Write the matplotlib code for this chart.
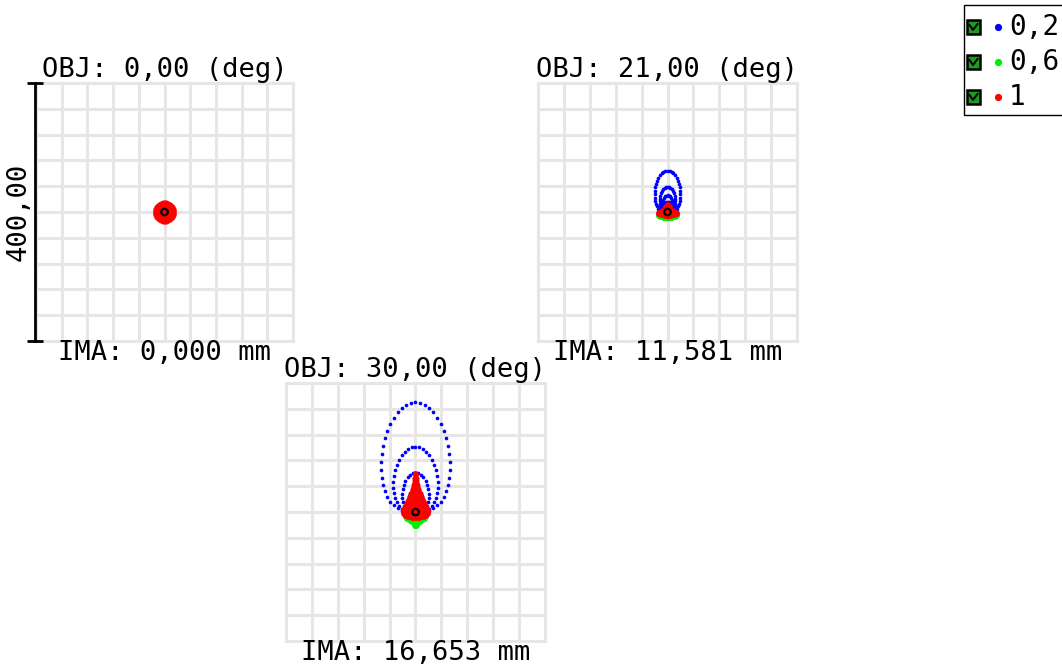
import numpy as np
import matplotlib
matplotlib.use("Agg")
import matplotlib.pyplot as plt
from matplotlib.patches import Rectangle
from matplotlib.lines import Line2D

# field info
fields = ["0,00", "21,00", "30,00"]
ima_heights = ["0,000", "11,581", "16,653"]
scale_um = 400
wavelengths = ["0,2", "0,6", "1"]
wl_colors = ["#0000ff", "#00ee00", "#ff0000"]

# spot rings, in um relative to chief ray:
# (half width, bottom y, top y, dots on ring)
blue_0 = [(14, -14, 14, 40), (9, -9, 9, 30), (4, -4, 4, 20)]
green_0 = [(14, -14, 14, 40), (9, -9, 9, 30), (4, -4, 4, 20)]
red_0 = [(15, -15, 15, 60), (12, -12, 12, 50), (9, -9, 9, 40), (6, -6, 6, 30), (3, -3, 3, 16)]

blue_21 = [(20, -2, 64, 40), (12, -2, 39, 32), (8, -2, 26, 26), (5, -2, 16, 20)]
green_21 = [(15, -9, 0, 40), (10, -10, 3, 34), (5, -10, 6, 24), (2, -9, 4, 12)]
red_21 = [(15, -5, 2, 50), (11, -6, 4, 40), (6, -7, 10, 34), (3, -6, 12, 24), (2, -3, 5, 12)]

blue_30 = [(53, -1, 170, 46), (35, -1, 101, 38), (21, -1, 61, 30), (12, -1, 36, 24)]
green_30 = [(17, -14, 8, 50), (11, -18, 24, 44), (6, -22, 40, 36), (3, -22, 50, 24)]
red_30 = [(20, -9, 14, 70), (16, -9, 26, 60), (11, -8, 36, 54), (7, -7, 46, 46),
          (3, -4, 61, 40), (1.5, 0, 60, 30), (12, -6, 16, 46), (6, -4, 10, 30), (3, -2, 5, 16)]

spots = [[blue_0, green_0, red_0], [blue_21, green_21, red_21], [blue_30, green_30, red_30]]
# how much the rings sag toward the bottom (1 = plain ellipse)
ring_sag = [1.0, 1.15, 1.25]
dot_sizes = [7, 9, 9]


def ring_points(rings, sag):
    xs, ys = [], []
    for rx, yb, yt, n in rings:
        t = np.linspace(0, 2 * np.pi, n, endpoint=False)
        xs.append(rx * np.sin(t))
        ys.append(yb + (yt - yb) * ((1 + np.cos(t)) / 2) ** sag)
    return np.concatenate(xs), np.concatenate(ys)


W, H = 1062, 668
fig = plt.figure(figsize=(W / 100, H / 100), dpi=100)

# axes boxes in pixels: left, top, right, bottom
boxes = [(36, 83, 293, 341), (538, 83, 797, 341), (286, 383, 545, 641)]
grid_col = "#e6e6e6"
mono = "DejaVu Sans Mono"

axes = []
for i, (l, t, r, b) in enumerate(boxes):
    ax = fig.add_axes([l / W, (H - b) / H, (r - l) / W, (b - t) / H])
    half = scale_um / 2
    ax.set_xlim(-half, half)
    ax.set_ylim(-half, half)
    ticks = np.arange(-half, half + 1, scale_um / 10)
    ax.set_xticks(ticks)
    ax.set_yticks(ticks)
    ax.tick_params(length=0, labelbottom=False, labelleft=False)
    ax.grid(True, color=grid_col, lw=2.2)
    ax.set_axisbelow(True)
    for s in ax.spines.values():
        s.set_color(grid_col)
        s.set_linewidth(2.2)

    for k, rings in enumerate(spots[i]):
        x, y = ring_points(rings, ring_sag[i])
        ax.scatter(x, y, s=dot_sizes[k], color=wl_colors[k], lw=0, zorder=3)
    # chief ray
    ax.scatter([0], [0], s=22, facecolor="none", edgecolor="black", lw=1.6, zorder=5)

    ax.text(0.5, 1.05, "OBJ: %s (deg)" % fields[i], transform=ax.transAxes,
            ha="center", va="center", fontsize=19.5, family=mono)
    ax.text(0.5, -0.047, "IMA: %s mm" % ima_heights[i], transform=ax.transAxes,
            ha="center", va="center", fontsize=19.5, family=mono)
    axes.append(ax)

# scale bar on first plot
ax = axes[0]
bx = -half - 2
ax.plot([bx, bx], [-half, half], color="black", lw=2, clip_on=False, zorder=6)
ax.plot([bx, bx], [-half, half], ls="none", marker="_", ms=11, mew=2,
        color="black", clip_on=False, zorder=6)
ax.text(-0.066, 0.5, "%d,00" % scale_um, transform=ax.transAxes, rotation=90,
        ha="center", va="center", fontsize=19.5, family=mono)

# legend box top right
fig.patches.append(Rectangle((964 / W, (H - 115) / H), 110 / W, 110 / H,
                             transform=fig.transFigure, facecolor="white",
                             edgecolor="black", lw=1.0))
for j, lab in enumerate(wavelengths):
    cy = 27 + 35 * j
    fig.patches.append(Rectangle((967 / W, (H - cy - 6.5) / H), 13 / W, 13 / H,
                                 transform=fig.transFigure, facecolor="#1f9a1f",
                                 edgecolor="black", lw=1.8))
    fig.lines.append(Line2D([969.5 / W, 973 / W, 977.5 / W],
                            [(H - cy + 2) / H, (H - cy - 3) / H, (H - cy + 3) / H],
                            transform=fig.transFigure, color="black", lw=1.4))
    fig.lines.append(Line2D([998 / W], [(H - cy) / H], transform=fig.transFigure,
                            ls="none", marker="o", ms=5.2, mew=0, color=wl_colors[j]))
    fig.text(1009 / W, (H - cy) / H, lab, ha="left", va="center",
             fontsize=20, family=mono)

fig.savefig("out.png", dpi=100)
